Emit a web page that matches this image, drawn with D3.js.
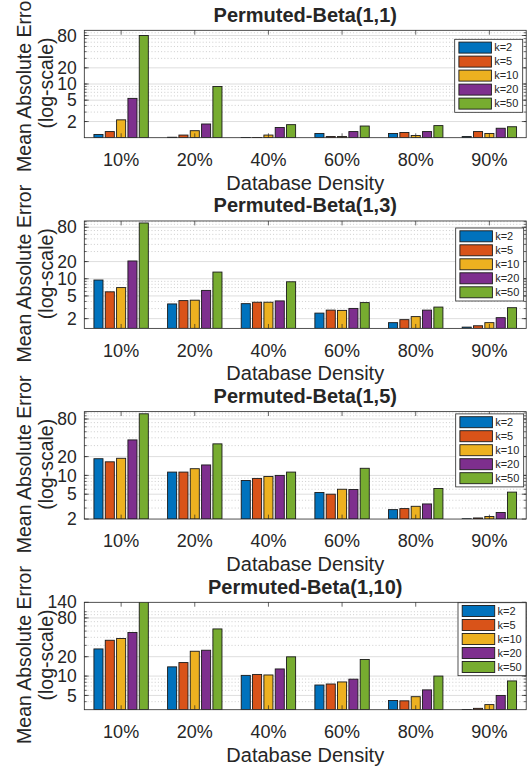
<!DOCTYPE html>
<html><head><meta charset="utf-8">
<script src="https://cdn.jsdelivr.net/npm/d3@7"></script>
<style>
body{margin:0;background:#fff}
svg{display:block}
text{font-family:"Liberation Sans",Arial,Helvetica,sans-serif;fill:#262626}
</style>
</head><body>
<svg id="chart" width="529" height="766"></svg>
<script>
// ---------- data ----------
const categories = ["10%", "20%", "40%", "60%", "80%", "90%"];
const seriesNames = ["k=2", "k=5", "k=10", "k=20", "k=50"];
const colors = ["#0072BD", "#D95319", "#EDB120", "#7E2F8E", "#77AC30"];
const titles = ["Permuted-Beta(1,1)", "Permuted-Beta(1,3)", "Permuted-Beta(1,5)", "Permuted-Beta(1,10)"];

// values per series (rows: k=2,k=5,k=10,k=20,k=50; columns: categories)
const beta11 = [
  [1.15, 1.02, 1.01, 1.20, 1.20, 1.05],
  [1.30, 1.12, 1.01, 1.05, 1.25, 1.30],
  [2.15, 1.35, 1.12, 1.05, 1.10, 1.20],
  [5.40, 1.80, 1.55, 1.30, 1.30, 1.50],
  [80.0, 9.00, 1.75, 1.65, 1.68, 1.60]
];
const beta13 = [
  [9.5, 3.62, 3.66, 2.50, 1.70, 1.42],
  [5.9, 4.14, 3.88, 2.82, 1.92, 1.50],
  [7.0, 4.21, 3.88, 2.79, 2.17, 1.70],
  [20.5, 6.25, 4.09, 3.02, 2.82, 2.08],
  [95, 13.1, 8.85, 3.82, 3.19, 3.11]
];
const beta15 = [
  [18.5, 11.3, 8.30, 5.32, 2.83, 2.02],
  [16.5, 11.3, 8.95, 5.00, 2.94, 2.08],
  [18.8, 12.8, 9.60, 6.00, 3.20, 2.20],
  [37.0, 14.7, 10.0, 5.95, 3.49, 2.55],
  [97.0, 32.0, 11.3, 13.0, 6.17, 5.40]
];
const beta110 = [
  [26.4, 13.9, 10.25, 7.26, 4.17, 3.02],
  [36.0, 16.2, 10.6, 7.53, 4.12, 3.15],
  [38.4, 24.3, 10.4, 8.10, 4.78, 3.60],
  [47.6, 25.2, 12.9, 8.95, 6.10, 5.00],
  [150, 54.0, 19.9, 18.1, 10.0, 8.40]
];
const panelData = [beta11, beta13, beta15, beta110];

const yDomains = [[1, 100], [1.35, 103], [2, 105], [3, 140]];
const yTicks = [[2, 5, 10, 20, 80], [2, 5, 10, 20, 80], [2, 5, 10, 20, 80], [5, 10, 20, 80, 140]];

// ---------- layout ----------
const W = 529, H = 766;
const plotLeft = 84.3, plotRight = 526.2;
const top0 = 30.3, plotH = 107.4, step = 190.67;
const legendPos = [ // right edge, top
  [522.7, 39.3], [523.7, 228], [523.7, 413.9], [526, 602.7]
];
const axisColor = "#262626";

const svg = d3.select("#chart");
svg.append("rect").attr("width", W).attr("height", H).attr("fill", "#fff");
const defs = svg.append("defs");

panelData.forEach((data, p) => {
  const top = top0 + p * step;
  const bottom = top + plotH;
  const g = svg.append("g");

  const x0 = d3.scaleBand().domain(categories).range([plotLeft, plotRight]).padding(0);
  const band = x0.bandwidth();
  const groupW = band * 5 / 6.5;
  const x1 = d3.scaleBand().domain(seriesNames).range([-groupW / 2, groupW / 2]).padding(0);
  const y = d3.scaleLog().domain(yDomains[p]).range([bottom, top]);

  // clip
  const cid = "clip" + p;
  defs.append("clipPath").attr("id", cid).append("rect")
    .attr("x", plotLeft).attr("y", top).attr("width", plotRight - plotLeft).attr("height", plotH);

  // grid
  const [dmin, dmax] = yDomains[p];
  const minors = [];
  for (let k = Math.floor(Math.log10(dmin)); k <= Math.ceil(Math.log10(dmax)); k++) {
    for (let m = 1; m <= 9; m++) {
      const v = m * Math.pow(10, k);
      if (v > dmin * 1.001 && v < dmax * 0.999) minors.push(v);
    }
  }
  const majors = yTicks[p];
  g.append("g").selectAll("line").data(minors.filter(v => !majors.includes(v))).join("line")
    .attr("x1", plotLeft).attr("x2", plotRight)
    .attr("y1", d => y(d)).attr("y2", d => y(d))
    .attr("stroke", "#b8b8b8").attr("stroke-width", 0.7).attr("stroke-dasharray", "1,2.2");
  g.append("g").selectAll("line").data(majors.filter(v => v > dmin && v < dmax)).join("line")
    .attr("x1", plotLeft).attr("x2", plotRight)
    .attr("y1", d => y(d)).attr("y2", d => y(d))
    .attr("stroke", "#dedede").attr("stroke-width", 1);

  // bars
  const bars = g.append("g").attr("clip-path", `url(#${cid})`);
  seriesNames.forEach((s, si) => {
    bars.append("g").selectAll("rect").data(data[si]).join("rect")
      .attr("x", (d, ci) => x0(categories[ci]) + band / 2 + x1(s) + x1.bandwidth() * 0.1)
      .attr("width", x1.bandwidth() * 0.8)
      .attr("y", d => y(Math.max(d, dmin)))
      .attr("height", d => bottom - y(Math.max(d, dmin)))
      .attr("fill", colors[si])
      .attr("stroke", "#1a1a1a").attr("stroke-width", 0.9);
  });

  // axes box
  g.append("rect").attr("x", plotLeft).attr("y", top)
    .attr("width", plotRight - plotLeft).attr("height", plotH)
    .attr("fill", "none").attr("stroke", axisColor).attr("stroke-width", 0.8);

  // y ticks (left/right), major + minor
  const tl = 4.4, tm = 2.4;
  const tk = g.append("g").attr("stroke", axisColor).attr("stroke-width", 0.7);
  minors.forEach(v => {
    tk.append("line").attr("x1", plotLeft).attr("x2", plotLeft + tm).attr("y1", y(v)).attr("y2", y(v));
    tk.append("line").attr("x1", plotRight).attr("x2", plotRight - tm).attr("y1", y(v)).attr("y2", y(v));
  });
  majors.forEach(v => {
    tk.append("line").attr("x1", plotLeft).attr("x2", plotLeft + tl).attr("y1", y(v)).attr("y2", y(v));
    tk.append("line").attr("x1", plotRight).attr("x2", plotRight - tl).attr("y1", y(v)).attr("y2", y(v));
  });
  categories.forEach(c => {
    const cx = x0(c) + band / 2;
    tk.append("line").attr("x1", cx).attr("x2", cx).attr("y1", bottom).attr("y2", bottom - tl);
    tk.append("line").attr("x1", cx).attr("x2", cx).attr("y1", top).attr("y2", top + tl);
  });

  // y tick labels
  g.append("g").selectAll("text").data(majors).join("text")
    .attr("x", plotLeft - 7.5).attr("y", d => y(d)).attr("dy", "0.35em")
    .attr("text-anchor", "end").attr("font-size", 17.5).text(d => d);

  // x tick labels
  g.append("g").selectAll("text").data(categories).join("text")
    .attr("x", d => x0(d) + band / 2).attr("y", bottom + 28.3)
    .attr("text-anchor", "middle").attr("font-size", 18).text(d => d);

  const cx = (plotLeft + plotRight) / 2;
  // x label
  g.append("text").attr("x", cx).attr("y", bottom + 51.8)
    .attr("text-anchor", "middle").attr("font-size", 20).text("Database Density");
  // title
  g.append("text").attr("x", cx).attr("y", top - 8.5)
    .attr("text-anchor", "middle").attr("font-size", 20).attr("font-weight", "bold").text(titles[p]);
  // y label
  const cy = top + plotH / 2 - 1;
  g.append("text").attr("transform", `translate(31,${cy}) rotate(-90)`)
    .attr("text-anchor", "middle").attr("font-size", 19.5).text("Mean Absolute Error");
  g.append("text").attr("transform", `translate(52.5,${cy}) rotate(-90)`)
    .attr("text-anchor", "middle").attr("font-size", 19.5).text("(log-scale)");

  // legend
  const lw = 68, lh = 73;
  const [lr, lt] = legendPos[p];
  const lg = g.append("g").attr("transform", `translate(${lr - lw},${lt})`);
  lg.append("rect").attr("width", lw).attr("height", lh)
    .attr("fill", "#fff").attr("stroke", axisColor).attr("stroke-width", 0.8);
  seriesNames.forEach((s, si) => {
    const yy = 8.3 + si * 14;
    lg.append("rect").attr("x", 4.2).attr("y", yy - 5.5).attr("width", 32.5).attr("height", 11)
      .attr("fill", colors[si]).attr("stroke", "#1a1a1a").attr("stroke-width", 0.9);
    lg.append("text").attr("x", 39.5).attr("y", yy).attr("dy", "0.35em")
      .attr("font-size", 11).text(s);
  });
});
</script>
</body></html>
